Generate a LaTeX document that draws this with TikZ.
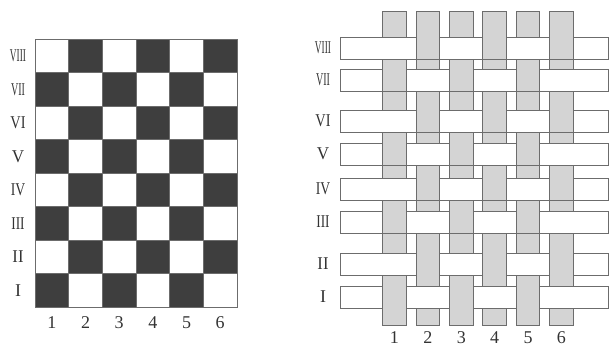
\documentclass[tikz,border=0pt]{standalone}
\usepackage{fontspec}
\setmainfont{Liberation Serif}
\usepackage{graphicx}
\usepackage{tikz}
\definecolor{boardblack}{HTML}{3E3E3E}
\definecolor{warpgray}{HTML}{D4D4D4}
\definecolor{edgegray}{HTML}{6C6C6C}
\newcommand{\rnum}[2]{\scalebox{#1}[1]{#2}}
\tikzset{
	lab/.style={font=\fontsize{18}{20}\selectfont, inner sep=0pt, text=black!80},
	warp/.style={fill=warpgray, draw=edgegray, line width=0.9pt},
	weft/.style={fill=white, draw=edgegray, line width=0.9pt},
}

\begin{document}
\begin{tikzpicture}[x=1pt,y=-1pt]
			\useasboundingbox (0,0) rectangle (610,347);
			
			% plain weave as a board
			\foreach \c in {1,...,6}{
				\foreach \r in {1,...,8}{
					\pgfmathtruncatemacro\s{\c+\r}
					\ifodd\s
						\draw[edgegray, line width=0.5pt, fill=white] ({35+33.67*(\c-1)},{307-33.5*\r}) rectangle ++(33.67,33.5);
					\else
						\draw[edgegray, line width=0.5pt, fill=boardblack] ({35+33.67*(\c-1)},{307-33.5*\r}) rectangle ++(33.67,33.5);
					\fi
				}
			}
			\draw[edgegray, line width=0.9pt] (35,39) rectangle (237,307);
			
			\foreach \r/\t/\f in {8/VIII/0.52, 7/VII/0.56, 6/VI/0.8, 5/V/0.95, 4/IV/0.76, 3/III/0.74, 2/II/0.92, 1/I/1}
				\node[lab] (boardrow\r) at (18,{307-33.5*(\r-0.5)}) {\rnum{\f}{\t}};
			\foreach \c in {1,...,6}
				\node[lab] (boardcol\c) at ({35+33.67*(\c-0.5)},323) {\c};
			
			% the same weave with strips
			\foreach \c in {1,...,6}
				\draw[warp] ({382.7+33.4*(\c-1)},11) rectangle ++(23.5,314);
			
			\foreach \r/\y/\t/\f in {8/37/VIII/0.52, 7/69/VII/0.56, 6/110/VI/0.8, 5/143/V/0.95, 4/178/IV/0.76, 3/211/III/0.74, 2/253/II/0.92, 1/286/I/1}{
				\draw[weft] (340,\y) rectangle (608.5,\y+22);
				\foreach \c in {1,...,6}{
					\pgfmathtruncatemacro\s{\c+\r}
					\ifodd\s\else
						\fill[warpgray] ({382.7+33.4*(\c-1)},\y-0.5) rectangle ++(23.5,23);
						\draw[edgegray, line width=0.9pt] ({382.7+33.4*(\c-1)},\y-0.5) -- ++(0,23)
							({406.2+33.4*(\c-1)},\y-0.5) -- ++(0,23);
					\fi
				}
				\node[lab] (weftrow\r) at (323,\y+11) {\rnum{\f}{\t}};
			}
			\foreach \c in {1,...,6}
				\node[lab] (warpcol\c) at ({394.45+33.4*(\c-1)},337.5) {\c};
		\end{tikzpicture}
\end{document}
